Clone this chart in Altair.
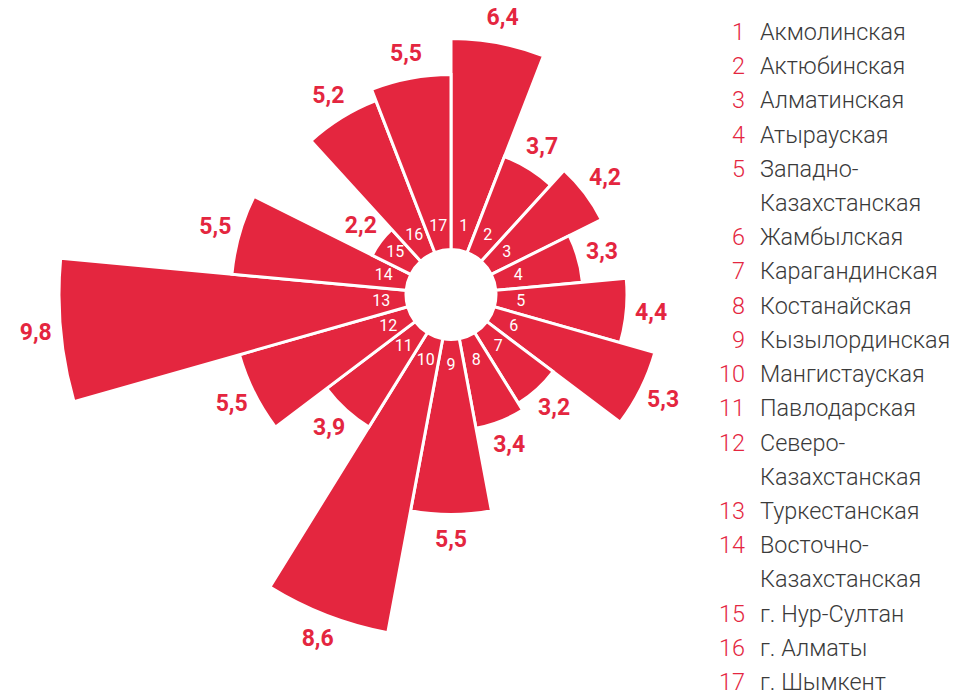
import altair as alt
import pandas as pd

# ---- data ----
region_numbers = list(range(1, 18))
region_names = [
    "Акмолинская",
    "Актюбинская",
    "Алматинская",
    "Атырауская",
    "Западно-\nКазахстанская",
    "Жамбылская",
    "Карагандинская",
    "Костанайская",
    "Кызылординская",
    "Мангистауская",
    "Павлодарская",
    "Северо-\nКазахстанская",
    "Туркестанская",
    "Восточно-\nКазахстанская",
    "г. Нур-Султан",
    "г. Алматы",
    "г. Шымкент",
]
values = [6.4, 3.7, 4.2, 3.3, 4.4, 5.3, 3.2, 3.4, 5.5, 8.6, 3.9, 5.5, 9.8, 5.5, 2.2, 5.2, 5.5]

RED = "#E4263F"
GREY = "#3a3a3a"
N = len(values)

df = pd.DataFrame({
    "idx": region_numbers,
    "num": [str(n) for n in region_numbers],
    "value": values,
    "label": [f"{v:.1f}".replace(".", ",") for v in values],
})
df["start"] = df["idx"] - 1
df["end"] = df["idx"]
df["mid"] = df["idx"] - 0.5

# legend rows (one row per printed line)
leg_rows = []
row = 0
for n, name in zip(region_numbers, region_names):
    for j, part in enumerate(name.split("\n")):
        leg_rows.append({"row": row, "num": str(n) if j == 0 else "", "text": part})
        row += 1
leg = pd.DataFrame(leg_rows)

CX, CY = 443, 286.5
rscale = alt.Scale(type="linear", domain=[0, 10], range=[0, 400])
tscale = alt.Scale(type="linear", domain=[0, N], range=[0, 6.283185307179586])

base = alt.Chart(df).encode(x=alt.value(CX), y=alt.value(CY))

bars = base.mark_arc(innerRadius=45, stroke="white", strokeWidth=3, color=RED).encode(
    theta=alt.Theta("start:Q", scale=tscale),
    theta2="end:Q",
    radius=alt.Radius("value:Q", scale=rscale),
)

values_txt = base.mark_text(
    radiusOffset=25, font="Roboto", fontWeight="bold", fontSize=23, color=RED,
    align="center", baseline="middle",
).encode(
    theta=alt.Theta("mid:Q", scale=tscale),
    radius=alt.Radius("value:Q", scale=rscale),
    text="label:N",
)

inner_txt = base.mark_text(
    font="Roboto", fontSize=16, color="white", align="center", baseline="middle",
).encode(
    theta=alt.Theta("mid:Q", scale=tscale),
    radius=alt.value(70),
    text="num:N",
)

yscale = alt.Scale(domain=[0, 19], range=[32, 682])
leg_base = alt.Chart(leg).encode(y=alt.Y("row:Q", scale=yscale, axis=None))

leg_num = leg_base.mark_text(
    font="Roboto", fontWeight=300, fontSize=23.4, color=RED, align="right", baseline="alphabetic",
).encode(x=alt.value(737), text="num:N")

leg_name = leg_base.mark_text(
    font="Roboto", fontWeight=300, fontSize=23.4, color=GREY, align="left", baseline="alphabetic",
).encode(x=alt.value(752), text="text:N")

chart = alt.layer(bars, values_txt, inner_txt, leg_num, leg_name).properties(
    width=941,
    height=684,
    padding=0,
    autosize=alt.AutoSizeParams(type="none"),
).configure_view(stroke=None)

chart.save("out.html", embed_options={"renderer": "svg", "actions": False})
